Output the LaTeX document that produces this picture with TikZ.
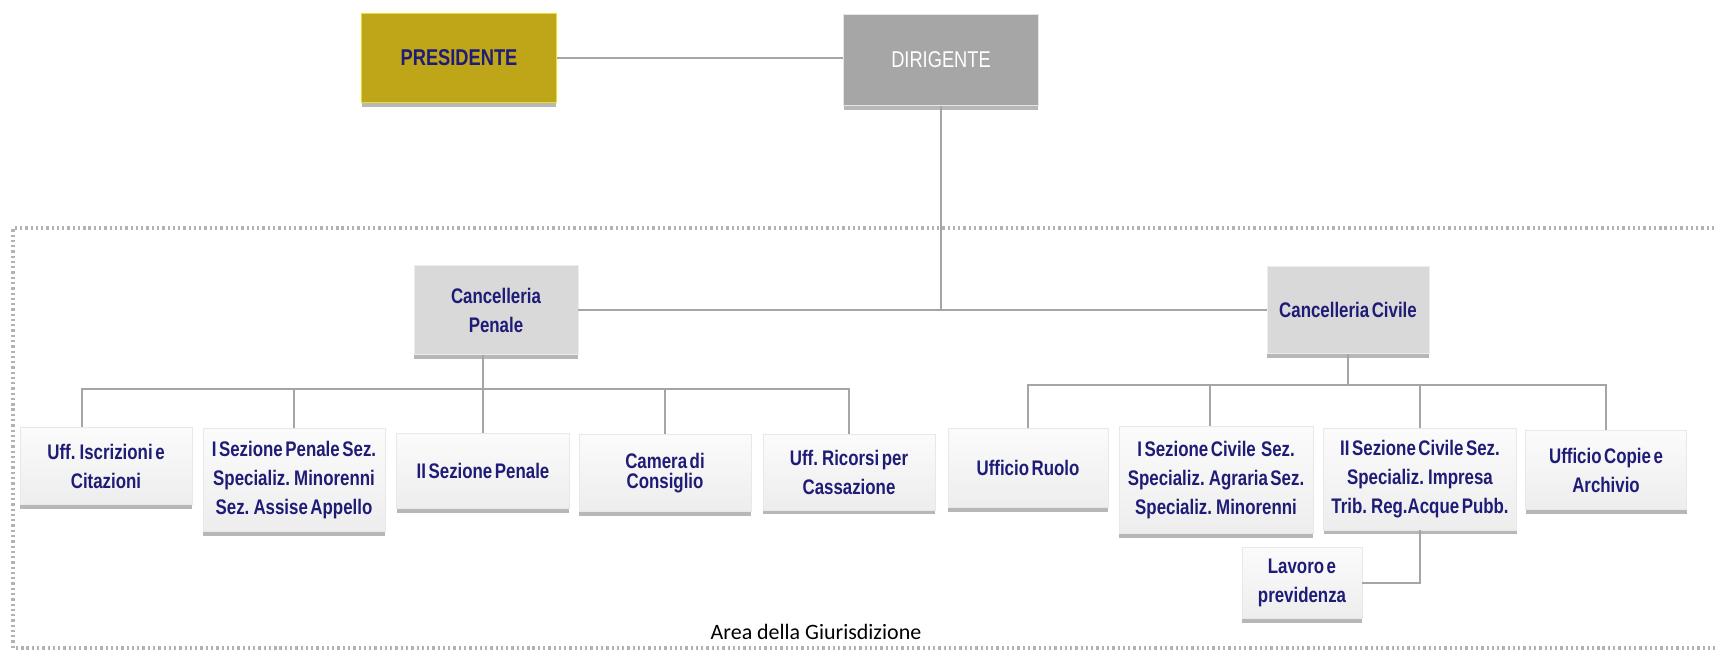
\documentclass[tikz,border=0pt]{standalone}
\usepackage{fontspec}
\setmainfont{Liberation Sans}
\newfontfamily\strettofont[FakeStretch=0.8, WordSpace=0.55]{Liberation Sans}
\newfontfamily\calibrifont{Carlito}
\usetikzlibrary{shadows}

\definecolor{blunotte}{RGB}{30,28,118}
\definecolor{oro}{RGB}{191,165,24}
\definecolor{giallo}{RGB}{236,222,40}
\definecolor{grigioscuro}{RGB}{166,166,166}
\definecolor{grigiochiaro}{RGB}{217,217,217}
\definecolor{linee}{RGB}{165,165,165}

\begin{document}
\begin{tikzpicture}[x=0.02cm, y=-0.02cm,
    ombra/.style={drop shadow={shadow xshift=0pt, shadow yshift=-0.09cm, fill=gray!80, opacity=0.7}},
    vertice/.style={ombra, inner sep=0pt, align=center, font=\strettofont\bfseries\fontsize{13}{16}\selectfont},
    cancelleria/.style={ombra, fill=grigiochiaro, draw=white!85!gray, inner sep=0pt, align=center, text=blunotte,
        font=\strettofont\bfseries\fontsize{12}{16.5}\selectfont},
    ufficio/.style={ombra, top color=white!97!gray, bottom color=white!86!gray, draw=white!82!gray, inner sep=0pt,
        align=center, text=blunotte, font=\strettofont\bfseries\fontsize{12}{16.5}\selectfont},
    linea/.style={draw=linee, line width=0.8pt}]

    \useasboundingbox (0,0) rectangle (1717,651);

    % Cornice area della giurisdizione
    \draw[gray!60, line width=2.2pt, dash pattern=on 1.3pt off 1.7pt]
        (1730,228) -- (13,228) -- (13,648) -- (1730,648);
    \node[font=\calibrifont\fontsize{12.5}{14}\selectfont] (area) at (816,632) {Area della Giurisdizione};

    % Vertice
    \node[vertice, fill=oro, draw=giallo, line width=1pt, text=blunotte,
        minimum width=3.9cm, minimum height=1.78cm] (presidente) at (459,58) {PRESIDENTE};
    \node[vertice, fill=grigioscuro, draw=white!80!gray, text=white, font=\strettofont\fontsize{13}{16}\selectfont,
        minimum width=3.9cm, minimum height=1.82cm] (dirigente) at (941,60) {DIRIGENTE};

    % Cancellerie
    \node[cancelleria, minimum width=3.28cm, minimum height=1.78cm] (penale) at (496,310) {Cancelleria\\Penale};
    \node[cancelleria, minimum width=3.24cm, minimum height=1.74cm] (civile) at (1348,310) {Cancelleria Civile};

    % Uffici penali
    \node[ufficio, minimum width=3.44cm, minimum height=1.54cm] (iscrizioni) at (106,466) {Uff. Iscrizioni e\\Citazioni};
    \node[ufficio, minimum width=3.64cm, minimum height=2.06cm] (sezpen1) at (294,480)
        {I Sezione Penale Sez.\\Specializ. Minorenni\\Sez. Assise Appello};
    \node[ufficio, minimum width=3.46cm, minimum height=1.5cm] (sezpen2) at (483,471) {II Sezione Penale};
    \node[ufficio, minimum width=3.44cm, minimum height=1.54cm] (camera) at (665,473) {Camera di\\[-5pt]Consiglio};
    \node[ufficio, minimum width=3.44cm, minimum height=1.52cm] (ricorsi) at (849,472) {Uff. Ricorsi per\\Cassazione};

    % Uffici civili
    \node[ufficio, minimum width=3.2cm, minimum height=1.58cm] (ruolo) at (1028,468) {Ufficio Ruolo};
    \node[ufficio, minimum width=3.88cm, minimum height=2.14cm] (sezciv1) at (1216,480)
        {I Sezione Civile~ Sez.\\Specializ. Agraria Sez.\\Specializ. Minorenni};
    \node[ufficio, minimum width=3.86cm, minimum height=2.04cm] (sezciv2) at (1420,479)
        {II Sezione Civile Sez.\\Specializ. Impresa\\Trib. Reg.Acque Pubb.};
    \node[ufficio, minimum width=3.22cm, minimum height=1.58cm] (copie) at (1606,470) {Ufficio Copie e\\Archivio};
    \node[ufficio, minimum width=2.4cm, minimum height=1.42cm] (lavoro) at (1302,583) {Lavoro e\\previdenza};

    % Collegamenti
    \coordinate (busp) at (483,389);
    \coordinate (busc) at (1348,385);
    \draw[linea] (presidente.east) -- (dirigente.west |- presidente.east);
    \draw[linea] (penale.east) -- (civile.west);
    \draw[linea] (dirigente.south) -- (dirigente.south |- penale.east);

    \draw[linea] (penale.south -| busp) -- (busp);
    \draw[linea] ([xshift=-0.48cm]iscrizioni.north) |- (busp);
    \draw[linea] (sezpen1.north) |- (busp);
    \draw[linea] (sezpen2.north) -- (busp);
    \draw[linea] (camera.north) |- (busp);
    \draw[linea] (ricorsi.north) |- (busp);

    \draw[linea] (civile.south) -- (busc);
    \draw[linea] (ruolo.north) |- (busc);
    \draw[linea] ([xshift=-0.12cm]sezciv1.north) |- (busc);
    \draw[linea] (sezciv2.north) |- (busc);
    \draw[linea] (copie.north) |- (busc);
    \draw[linea] (sezciv2.south) |- (lavoro.east);
\end{tikzpicture}
\end{document}
